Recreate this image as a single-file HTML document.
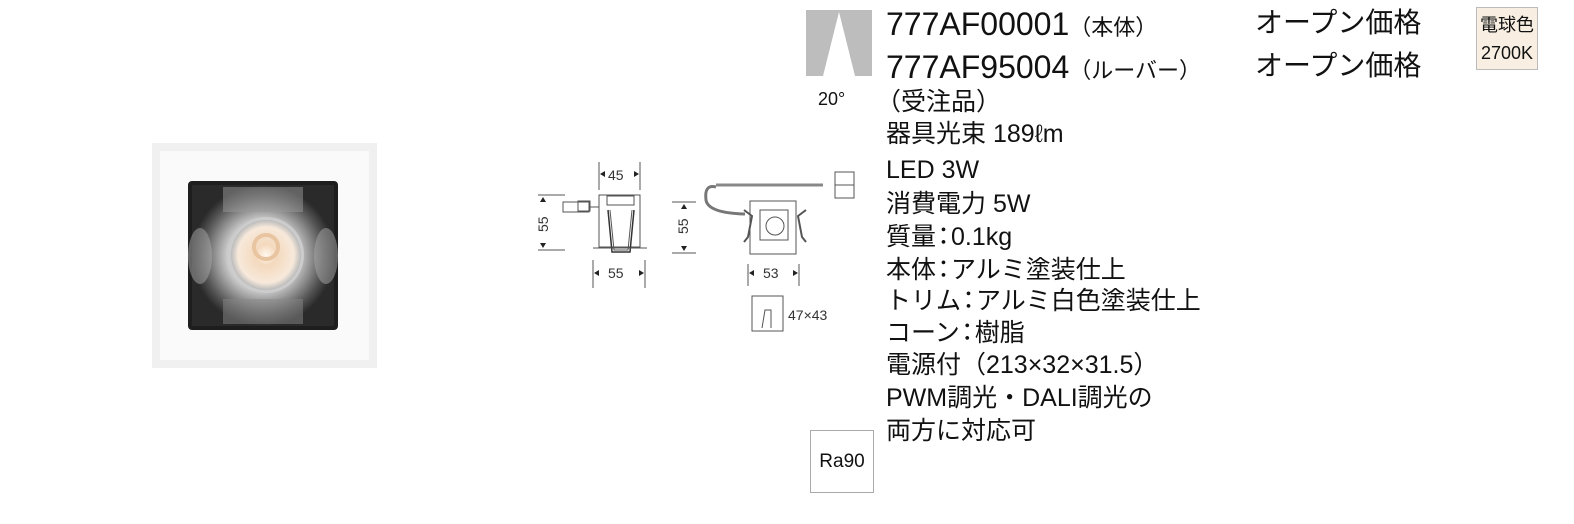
<!DOCTYPE html>
<html><head><meta charset="utf-8"><style>
body{margin:0;width:1574px;height:524px;background:#fff;position:relative;overflow:hidden;font-family:"Liberation Sans","Noto Sans CJK JP",sans-serif;color:#111}
.t{position:absolute;white-space:nowrap;line-height:1}
.s{font-size:25px;left:886px}
.c{display:inline-block;margin:0 -5px}
</style></head><body>
<!-- photo -->
<div style="position:absolute;left:152px;top:143px;width:225px;height:225px;background:#f0f0f0"></div>
<div style="position:absolute;left:160px;top:151px;width:209px;height:209px;background:#fafafa"></div>
<svg style="position:absolute;left:188px;top:181px" width="150" height="149">
<defs><radialGradient id="g" cx="50%" cy="50%" r="50%"><stop offset="0" stop-color="#fff"/><stop offset="0.5" stop-color="#ccc"/><stop offset="0.85" stop-color="#555"/><stop offset="1" stop-color="#2a2a2a"/></radialGradient>
<radialGradient id="c" cx="50%" cy="50%" r="50%"><stop offset="0" stop-color="#fff8ef"/><stop offset="0.3" stop-color="#f4d9bd"/><stop offset="0.8" stop-color="#f7e9db"/><stop offset="1" stop-color="#bbb"/></radialGradient></defs>
<rect x="0" y="0" width="150" height="149" rx="4" fill="#1e1e1e"/>
<rect x="4" y="4" width="142" height="141" fill="url(#g)"/>
<rect x="35" y="6" width="80" height="25" fill="#999" opacity=".5"/>
<rect x="35" y="118" width="80" height="25" fill="#888" opacity=".5"/>
<ellipse cx="12" cy="75" rx="12" ry="28" fill="#aaa" opacity=".5"/>
<ellipse cx="138" cy="75" rx="12" ry="28" fill="#aaa" opacity=".5"/>
<circle cx="78" cy="74" r="38" fill="#ccc"/>
<circle cx="78" cy="74" r="35" fill="url(#c)"/>
<circle cx="78" cy="66" r="12" fill="none" stroke="#e8c4a0" stroke-width="4"/>
</svg>
<!-- drawings -->
<svg style="position:absolute;left:520px;top:150px" width="340" height="190" font-family="Liberation Sans, sans-serif" font-size="14" fill="#333">
<g stroke="#555" stroke-width="1" fill="none">
<line x1="79" y1="12" x2="79" y2="40"/><line x1="120" y1="12" x2="120" y2="40"/>
<line x1="18" y1="45" x2="45" y2="45"/><line x1="18" y1="100" x2="45" y2="100"/>
<rect x="79" y="45" width="41" height="52" fill="#fff"/>
<rect x="43" y="52" width="26" height="10"/><rect x="58" y="51" width="12" height="10"/>
<line x1="69" y1="57" x2="79" y2="57"/>
<rect x="87" y="46" width="27" height="9"/>
<path d="M88 60 L92 102 L110 102 L114 60" stroke-width="1.5" stroke="#333"/><path d="M90 60 L94 100 L108 100 L112 60"/>
<line x1="73" y1="98" x2="127" y2="98"/>
<line x1="73" y1="110" x2="73" y2="138"/><line x1="125" y1="110" x2="125" y2="138"/>
<line x1="152" y1="52" x2="176" y2="52"/><line x1="152" y1="103" x2="176" y2="103"/>
<rect x="230" y="51" width="46" height="53" fill="#fff"/>
<rect x="240" y="60" width="28" height="30"/>
<circle cx="255" cy="76" r="9"/>
<path d="M196 37 Q184 34 186 50 Q188 63 225 64" stroke-width="3" stroke="#777"/>
<path d="M196 35 L303 35" stroke-width="3" stroke="#888"/>
<rect x="315" y="22" width="19" height="26" fill="#fff"/>
<line x1="315" y1="35" x2="334" y2="35"/>
<path d="M224 60 L232 66 L228 87 L224 92" stroke-width="2"/><path d="M286 60 L278 66 L282 87 L286 92" stroke-width="2"/>
<line x1="228" y1="114" x2="228" y2="136"/><line x1="279" y1="114" x2="279" y2="136"/>
<rect x="232" y="146" width="31" height="35"/>
<path d="M242 178 L245 160 L251 160 L251 178"/>
</g>
<g fill="#222"><path d="M80 24 l5 -3 v6z"/><path d="M119 24 l-5 -3 v6z"/>
<path d="M23 47 l-3 5 h6z"/><path d="M23 98 l-3 -5 h6z"/>
<path d="M74 123 l5 -3 v6z"/><path d="M124 123 l-5 -3 v6z"/>
<path d="M164 54 l-3 5 h6z"/><path d="M164 101 l-3 -5 h6z"/>
<path d="M229 123 l5 -3 v6z"/><path d="M278 123 l-5 -3 v6z"/></g>
<text x="88" y="30">45</text>
<text x="28" y="82" transform="rotate(-90 28 82)">55</text>
<text x="88" y="128">55</text>
<text x="168" y="84" transform="rotate(-90 168 84)">55</text>
<text x="243" y="128">53</text>
<text x="268" y="170">47×43</text>
</svg>
<!-- angle icon -->
<svg style="position:absolute;left:806px;top:10px" width="68" height="68"><rect width="66" height="66" fill="#bdbdbd"/><polygon points="33,2 17,66 49,66" fill="#fff"/></svg>
<div class="t" style="left:818px;top:90px;font-size:18px">20°</div>
<div class="t" style="left:886px;top:8px;font-size:32px">777AF00001<span style="font-size:22px">（本体）</span></div>
<div class="t" style="left:886px;top:51px;font-size:32px">777AF95004<span style="font-size:22px">（ルーバー）</span></div>
<div class="t" style="left:1255px;top:9px;font-size:28px">オープン価格</div>
<div class="t" style="left:1255px;top:52px;font-size:28px">オープン価格</div>
<div style="position:absolute;left:1476px;top:7px;width:62px;height:63px;background:#f8efe2;border:1px solid #bbb;font-size:18px;text-align:center;line-height:28px;padding-top:3px;box-sizing:border-box">電球色<br>2700K</div>
<div class="t s" style="top:90px;left:876px">（受注品）</div>
<div class="t s" style="top:122px">器具光束 189ℓm</div>
<div class="t s" style="top:158px">LED 3W</div>
<div class="t s" style="top:192px">消費電力 5W</div>
<div class="t s" style="top:225px">質量<span class="c">：</span>0.1kg</div>
<div class="t s" style="top:258px">本体<span class="c">：</span>アルミ塗装仕上</div>
<div class="t s" style="top:289px">トリム<span class="c">：</span>アルミ白色塗装仕上</div>
<div class="t s" style="top:321px">コーン<span class="c">：</span>樹脂</div>
<div class="t s" style="top:353px">電源付（213×32×31.5）</div>
<div class="t s" style="top:386px">PWM調光・DALI調光の</div>
<div class="t s" style="top:419px">両方に対応可</div>
<div style="position:absolute;left:810px;top:430px;width:64px;height:63px;border:1px solid #aaa;box-sizing:border-box;font-size:19px;text-align:center;line-height:61px">Ra90</div>
</body></html>
